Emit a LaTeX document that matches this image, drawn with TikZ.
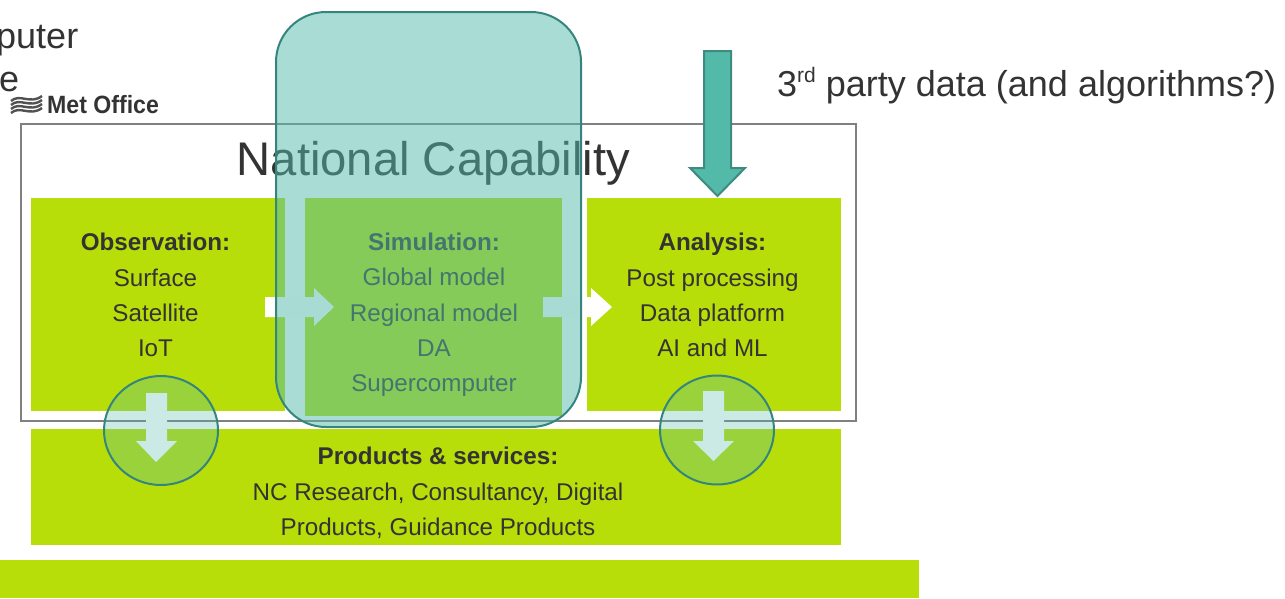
\documentclass[tikz,border=0pt]{standalone}
\usepackage{fontspec}
\setmainfont{Liberation Sans}
\definecolor{lime}{HTML}{B8DE0A}
\definecolor{tealfill}{HTML}{53B9A9}
\definecolor{tealline}{HTML}{35857F}
\definecolor{ink}{HTML}{333333}
\tikzset{
  greenbox/.style={fill=lime,draw=none},
  boxtext/.style={font=\fontsize{24.2}{35.3}\selectfont,text=ink,align=center,inner sep=0pt},
  blockarrow/.style={fill=white,draw=none},
  lens/.style={fill=tealfill,fill opacity=.3,draw=tealline,line width=2pt},
  bigtext/.style={font=\fontsize{36}{38}\selectfont,text=ink,inner sep=0pt,anchor=base west}
}
\begin{document}
\begin{tikzpicture}[x=1pt,y=-1pt]
\useasboundingbox (0,0) rectangle (1285,598);
\clip (0,0) rectangle (1285,598);
% clipped text
\node[bigtext] (t1) at (-4,48) {puter};
\node[bigtext] (t2) at (-1,91) {e};
% logo
\foreach \dy in {0,4,8,12}{
  \draw[ink!85,line width=2.4pt] (11,101+\dy) .. controls (20,93+\dy) and (30,105+\dy) .. (42,96+\dy);
}
\node[font=\bfseries\fontsize{25}{25}\selectfont,text=ink,inner sep=0pt,anchor=base west,xscale=.925] (logo) at (47,113) {Met Office};
% frame and boxes
\draw[gray,line width=1.4pt] (21,124) rectangle (856,421);
\node[font=\fontsize{47.2}{48}\selectfont,text=ink,inner sep=0pt,anchor=base] (title) at (433.5,175) {National Capability};
\fill[greenbox] (31,198) rectangle (285,411);
\fill[greenbox] (305,198) rectangle (562,416);
\fill[greenbox] (587,198) rectangle (841,411);
\fill[greenbox] (31,429) rectangle (841,545);
\fill[greenbox] (0,560) rectangle (919,598);
\node[boxtext] (obs) at (155.5,295) {\textbf{Observation:}\\Surface\\Satellite\\IoT};
\node[boxtext] (sim) at (434,315) {\textbf{Simulation:}\\Global model\\Regional model\\DA\\Supercomputer};
\node[boxtext] (ana) at (712.5,295) {\textbf{Analysis:}\\Post processing\\Data platform\\AI and ML};
\node[boxtext] (prod) at (438,493) {\textbf{Products \& services:}\\NC Research, Consultancy, Digital\\Products, Guidance Products};
% white arrows
\fill[blockarrow] (265,297) -- (314,297) -- (314,288) -- (334,307) -- (314,326) -- (314,317) -- (265,317) -- cycle;
\fill[blockarrow] (543,297) -- (591,297) -- (591,288) -- (612,307) -- (591,326) -- (591,317) -- (543,317) -- cycle;
\fill[blockarrow] (146,393) -- (167,393) -- (167,441) -- (177,441) -- (156,462) -- (136,441) -- (146,441) -- cycle;
\fill[blockarrow] (703,391) -- (724,391) -- (724,441) -- (734,441) -- (713.5,461) -- (693,441) -- (703,441) -- cycle;
% lenses
\draw[lens] (161,430.5) ellipse [x radius=57,y radius=54.5];
\draw[lens] (717,430) ellipse [x radius=57,y radius=54.5];
\draw[fill=tealfill,fill opacity=.5,draw=tealline,line width=2pt,rounded corners=50pt] (276,12) rectangle (581,427);
% third party
\draw[fill=tealfill,draw=tealfill!75!black,line width=2pt,line join=miter] (704,51) -- (731,51) -- (731,168) -- (745,168) -- (717.5,196) -- (690,168) -- (704,168) -- cycle;
\node[font=\fontsize{36}{38}\selectfont,text=ink,inner sep=0pt,anchor=base west] (third) at (777,96) {3\raisebox{.38em}{\fontsize{21}{21}\selectfont rd} party data (and algorithms?)};
\end{tikzpicture}
\end{document}
